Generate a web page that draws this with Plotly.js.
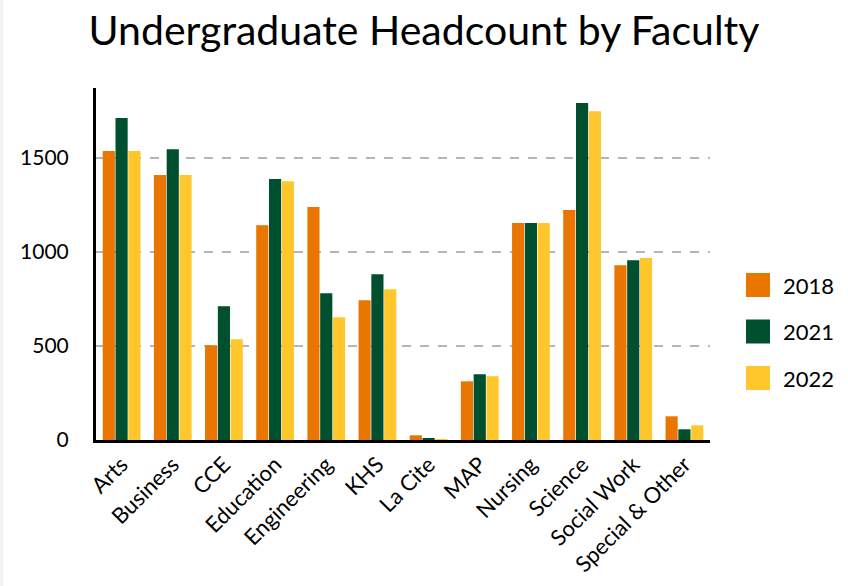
<!DOCTYPE html>
<html><head><meta charset="utf-8">
<script src="https://cdn.plot.ly/plotly-3.0.1.min.js"></script>
<style>html,body{margin:0;padding:0;background:#fff;}#chart{width:848px;height:586px;}</style>
</head><body><div id="chart"></div>
<script>
const categories = ["Arts","Business","CCE","Education","Engineering","KHS","La Cite","MAP","Nursing","Science","Social Work","Special & Other"];
const y2018 = [1536,1408,504,1142,1238,743,25,312,1153,1222,929,126];
const y2021 = [1711,1546,711,1387,780,881,9,350,1153,1791,956,57];
const y2022 = [1536,1408,535,1376,652,801,5,339,1153,1748,967,78];
const seriesNames = ["2018","2021","2022"];
const colors = ["#E87600","#004F2F","#FFC72C"];
const font = "Lato, 'Open Sans', sans-serif";
const data = [y2018,y2021,y2022].map((v,i)=>({
  type:"bar", x:categories, y:v, name:seriesNames[i],
  marker:{color:colors[i]}, hoverinfo:"x+y+name", showlegend:false
}));
// custom legend (paper coordinates), plot area 614 x 352 px
const W = 614, H = 352;
const shapes = [{type:"rect", xref:"paper", yref:"paper", x0:-96/W, x1:-93/W, y0:-146/H, y1:(H+88)/H,
  fillcolor:"#f3f3f3", line:{width:0}, layer:"below"}];
const annotations = [];
seriesNames.forEach((n,i)=>{
  const cy = 285 + i*46.5; // px from top of page
  const py = (440 - cy)/H;
  shapes.push({type:"rect", xref:"paper", yref:"paper", x0:(746-96)/W, x1:(770-96)/W,
    y0:py-12/H, y1:py+12/H, fillcolor:colors[i], line:{width:0}});
  annotations.push({xref:"paper", yref:"paper", x:(781-96)/W, y:py, xanchor:"left", yanchor:"middle",
    text:n, showarrow:false, font:{family:font,size:22,color:"#000"}});
});
const layout = {
  width:848, height:586,
  paper_bgcolor:"#fff", plot_bgcolor:"#fff",
  margin:{l:96,r:138,t:88,b:146},
  title:{text:"Undergraduate Headcount by Faculty", x:0.5, xanchor:"center", xref:"container", yref:"container", y:0.948, yanchor:"middle",
    font:{family:font,size:41,color:"#000"}},
  barmode:"group", bargap:0.25, bargroupgap:0.05,
  font:{family:font,color:"#000"},
  showlegend:false,
  shapes:shapes, annotations:annotations,
  xaxis:{tickangle:-45, tickfont:{size:22,color:"#000"}, showline:true, linecolor:"#000", linewidth:3,
    ticks:"", showgrid:false, zeroline:false},
  yaxis:{range:[0,1871], tickvals:[0,500,1000,1500], ticktext:["0","500","1000","1500"],
    tickfont:{size:21,color:"#000"}, showline:true, linecolor:"#000", linewidth:3, ticklabelstandoff:20,
    showgrid:true, gridcolor:"#b5b5b5", griddash:"dash", gridwidth:1.5, zeroline:false, ticks:""}
};
Plotly.newPlot("chart", data, layout, {displayModeBar:false});
</script></body></html>
